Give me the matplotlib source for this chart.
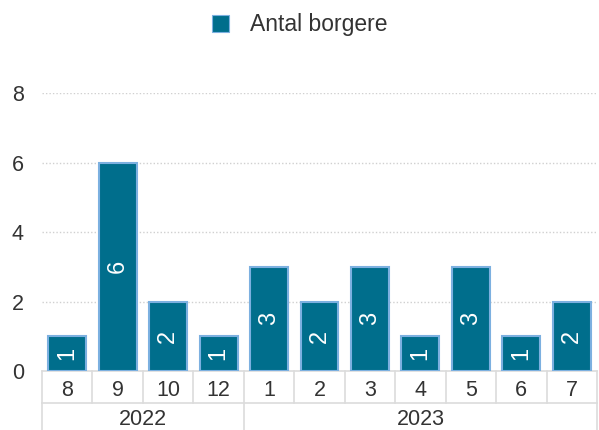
import matplotlib
matplotlib.use("Agg")
from matplotlib import pyplot as plt
from matplotlib.patches import Patch
import numpy as np

plt.rcParams['font.family'] = ['Liberation Sans', 'DejaVu Sans']

# data
months = ['8', '9', '10', '12', '1', '2', '3', '4', '5', '6', '7']
values = [1, 6, 2, 1, 3, 2, 3, 1, 3, 1, 2]
years = ['2022', '2023']
months_per_year = [4, 7]

bar_color = '#006e8c'
edge_color = '#7cb0e0'
grid_color = '#d0d0d0'
line_color = '#dcdcdc'
text_color = '#333333'

fig = plt.figure(figsize=(5.99, 4.30), dpi=100)
ax = fig.add_axes([42/599, 59/430, 555/599, 278/430])

x = np.arange(len(months))
bars = ax.bar(x, values, width=0.75, color=bar_color, edgecolor=edge_color,
              linewidth=1.5, zorder=3)

for xi, v in zip(x, values):
    ax.text(xi, v/2, str(v), rotation=90, ha='center', va='center',
            color='white', fontsize=17, zorder=4)

ax.set_xlim(-0.5, len(months) - 0.5)
ax.set_ylim(0, 8)
ax.set_yticks([0, 2, 4, 6, 8])
ax.tick_params(axis='y', length=0, pad=13, labelsize=15.5, labelcolor=text_color)
ax.set_xticks([])
for s in ['top', 'right', 'left']:
    ax.spines[s].set_visible(False)
ax.spines['bottom'].set_color(line_color)
ax.spines['bottom'].set_linewidth(1.2)
ax.yaxis.grid(True, linestyle=(0, (1, 1.5)), color=grid_color, linewidth=1, zorder=0)
ax.set_axisbelow(True)

# category table below axis
tr = ax.get_xaxis_transform()
row1 = -32/278
row2 = -59/278
nudge = -3/278
for b in np.arange(len(months) + 1) - 0.5:
    ax.plot([b, b], [0, row1], color=line_color, lw=1.2, transform=tr, clip_on=False)
ax.plot([-0.5, len(months) - 0.5], [row1, row1], color=line_color, lw=1.2,
        transform=tr, clip_on=False)
for xi, m in zip(x, months):
    ax.text(xi, row1/2 + nudge, m, ha='center', va='center', fontsize=15.5,
            color=text_color, transform=tr)

start = -0.5
edges = [start]
for yr, n in zip(years, months_per_year):
    end = start + n
    ax.text((start + end)/2, (row1 + row2)/2 + nudge, yr, ha='center', va='center',
            fontsize=15.5, color=text_color, transform=tr)
    edges.append(end)
    start = end
for b in edges:
    ax.plot([b, b], [row1, row2], color=line_color, lw=1.2, transform=tr, clip_on=False)

handle = Patch(facecolor=bar_color, edgecolor=edge_color, linewidth=0.8)
fig.legend([handle], ['Antal borgere'], loc='center', bbox_to_anchor=(0.5, 1 - 25/430),
           frameon=False, fontsize=16.5, handlelength=0.75, handleheight=0.75,
           handletextpad=0.9, labelcolor=text_color)

fig.savefig('out.png', dpi=100)
